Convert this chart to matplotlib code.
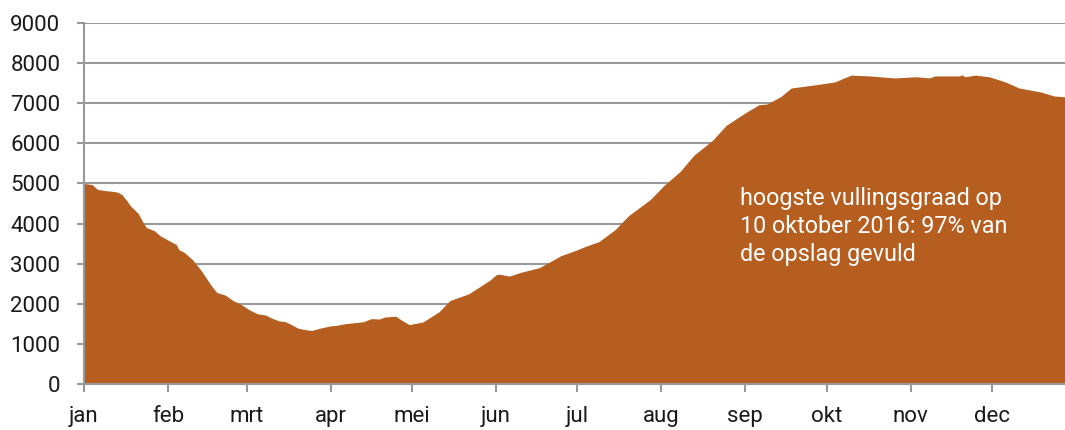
import matplotlib
matplotlib.use("Agg")
import matplotlib.pyplot as plt
import numpy as np

plt.rcParams['font.family'] = ['Roboto', 'DejaVu Sans']

# day of year (2016) and gas in storage
days = [0, 3, 5, 8, 11, 12.5, 14, 16, 17, 20, 22, 23, 26, 28, 32, 34, 35, 37, 40, 43,
        45, 47, 49, 52, 55, 58, 61, 64, 67, 69, 72, 74, 76, 79, 82, 84, 87, 91, 93, 96,
        100, 103, 106, 109, 111, 115, 117, 120, 125, 131, 135, 142, 150, 152, 153, 157,
        161, 165, 168, 171, 176, 181, 185, 190, 196, 201, 209, 214, 220, 225, 232, 237,
        244, 249, 252, 257, 261, 270, 277, 283, 290, 299, 307, 312, 314, 323, 324, 325,
        329, 334, 340, 345, 353, 358, 362]
values = [5000, 4970, 4850, 4820, 4800, 4780, 4720, 4550, 4450, 4250, 4000, 3900, 3820,
          3700, 3550, 3480, 3350, 3280, 3100, 2850, 2650, 2450, 2280, 2220, 2080, 1980,
          1850, 1750, 1720, 1650, 1570, 1560, 1500, 1390, 1350, 1335, 1390, 1450, 1460,
          1500, 1530, 1550, 1630, 1620, 1670, 1690, 1600, 1480, 1545, 1800, 2080, 2250,
          2600, 2720, 2740, 2690, 2780, 2850, 2900, 3010, 3200, 3320, 3430, 3550, 3850,
          4200, 4600, 4950, 5300, 5700, 6080, 6450, 6760, 6960, 6980, 7160, 7380, 7460,
          7530, 7700, 7680, 7630, 7660, 7630, 7680, 7680, 7710, 7660, 7700, 7660, 7530,
          7380, 7280, 7180, 7160]

month_starts = [0, 31, 60, 91, 121, 152, 182, 213, 244, 274, 305, 335]
month_labels = ['jan', 'feb', 'mrt', 'apr', 'mei', 'jun', 'jul', 'aug', 'sep', 'okt', 'nov', 'dec']

fig = plt.figure(figsize=(10.65, 4.3), dpi=100)
ax = fig.add_axes([0.0789, 0.107, 0.9211, 0.8395])

ax.fill_between(days, values, 0, color='#B65E1F', lw=0, zorder=2)

ax.set_xlim(0, 362)
ax.set_ylim(0, 9000)
ax.set_yticks(np.arange(0, 9001, 1000))
ax.set_xticks(month_starts)
ax.set_xticklabels(month_labels)
ax.yaxis.grid(True, color='#999999', lw=1.5, zorder=1)
ax.set_axisbelow(True)

for s in ['top', 'right']:
    ax.spines[s].set_visible(False)
for s in ['left', 'bottom']:
    ax.spines[s].set_color('#999999')
    ax.spines[s].set_linewidth(1.5)
    ax.spines[s].set_zorder(3)

ax.tick_params(axis='y', length=5, width=1.5, color='#999999', labelsize=16, pad=12,
               labelcolor='#1a1a1a')
ax.tick_params(axis='x', length=6, width=1.5, color='#999999', labelsize=16, pad=10,
               labelcolor='#1a1a1a')

ax.text(242, 4920, 'hoogste vullingsgraad op\n10 oktober 2016: 97% van\nde opslag gevuld',
        color='white', fontsize=16.8, va='top', ha='left', linespacing=1.3, zorder=4)

fig.savefig('out.png', dpi=100)
